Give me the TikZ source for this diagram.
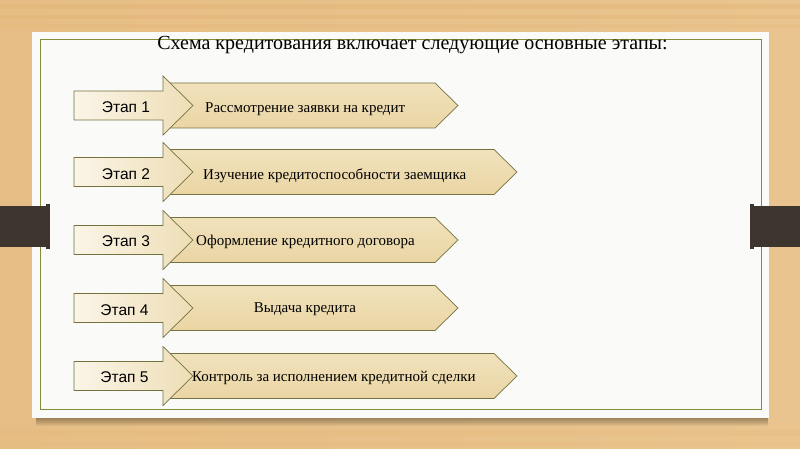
\documentclass[tikz,border=0pt]{standalone}
\usepackage{fontspec}
\setmainfont{Liberation Serif}
\newfontfamily\arialf{Liberation Sans}
\definecolor{woodL}{HTML}{E6BE85}
\definecolor{woodM}{HTML}{F1D8AE}
\definecolor{woodR}{HTML}{E9C48E}
\definecolor{woodS}{HTML}{E2AE6E}
\definecolor{panelwhite}{HTML}{FAFAF8}
\definecolor{frameolive}{HTML}{858A38}
\definecolor{barbrown}{HTML}{3F352F}
\definecolor{shapeline}{HTML}{74733F}
\definecolor{arrowL}{HTML}{FBF5E8}
\definecolor{arrowR}{HTML}{EEDEB6}
\definecolor{pentT}{HTML}{F1E2BC}
\definecolor{pentB}{HTML}{EAD5A4}
\begin{document}
\begin{tikzpicture}[x=1pt,y=-1pt,
  stagebox/.style={draw=shapeline, line width=0.7pt, left color=arrowL, right color=arrowR},
  stepshape/.style={draw=shapeline, line width=0.7pt, top color=pentT, bottom color=pentB},
  stagelabel/.style={font=\arialf\fontsize{15.5}{17}\selectfont, anchor=base, inner sep=0pt},
  steplabel/.style={font=\fontsize{15}{17}\selectfont, inner sep=0pt},
  streak/.style={fill=woodS, opacity=0.3}
]
\useasboundingbox (0,0) rectangle (800,449);
% wooden background
\shade[left color=woodL, middle color=woodM, right color=woodR] (0,0) rectangle (800,449);
\fill[streak] (0,4) rectangle (800,9);
\fill[streak] (0,15) rectangle (800,19);
\fill[streak, opacity=0.18] (0,24) rectangle (800,28);
\fill[streak, opacity=0.15] (0,430) rectangle (800,436);
\fill[streak, opacity=0.12] (0,442) rectangle (800,446);
% panel shadow
\foreach \i in {1,...,8} {\fill[black, opacity=0.045] (36,418) rectangle (768,418+\i);}
% panel
\fill[panelwhite] (32,32) rectangle (769,418);
\draw[frameolive, line width=1pt] (40,40) rectangle (761,409);
% side bars
\fill[barbrown] (0,206) rectangle (47,247);
\fill[barbrown] (46,204) rectangle (50,249);
\fill[barbrown] (753,206) rectangle (800,247);
\fill[barbrown] (750,204) rectangle (754,249);
% title
\node[font=\fontsize{20}{23}\selectfont, anchor=base, inner sep=0pt] (title) at (412.5,50) {Схема кредитования включает следующие основные этапы:};
% stages
\foreach \yc/\xr/\n/\lx/\lb in {105.5/435/1/126/112.5, 172/494/2/126/179, 240/435/3/126/246.5, 308/435/4/124.5/315, 376/494/5/124.5/382.5} {
  \path[stepshape] (168,\yc-22.5) -- (\xr,\yc-22.5) -- (\xr+23,\yc) -- (\xr,\yc+22.5) -- (168,\yc+22.5) -- cycle;
  \path[stagebox] (74,\yc-14.5) -- (163,\yc-14.5) -- (163,\yc-29.5) -- (193,\yc) -- (163,\yc+29.5) -- (163,\yc+14.5) -- (74,\yc+14.5) -- cycle;
  \node[stagelabel] (stage\n) at (\lx,\lb) {Этап \n};
}
\node[steplabel, anchor=base west] (step1) at (205,112.5) {Рассмотрение заявки на кредит};
\node[steplabel, anchor=base west] (step2) at (203,179) {Изучение кредитоспособности заемщика};
\node[steplabel, anchor=base west] (step3) at (196,245.5) {Оформление кредитного договора};
\node[steplabel, anchor=base] (step4) at (305,312.5) {Выдача кредита};
\node[steplabel, anchor=base west] (step5) at (192,381.5) {Контроль за исполнением кредитной сделки};
\end{tikzpicture}
\end{document}
